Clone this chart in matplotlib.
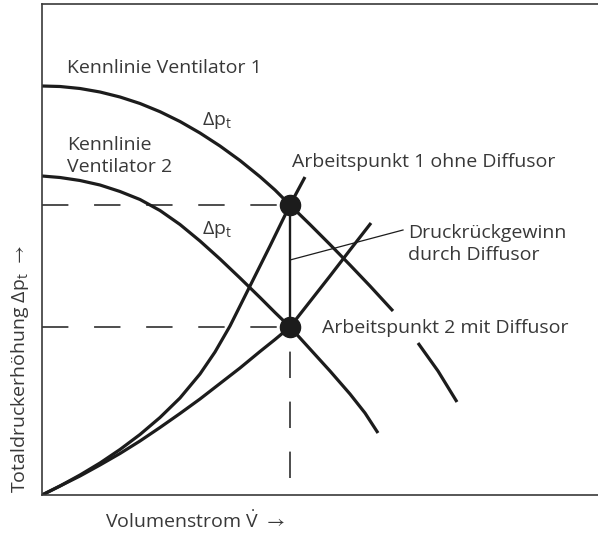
import numpy as np
import matplotlib
matplotlib.use("Agg")
import matplotlib.pyplot as plt

plt.rcParams['font.family'] = ['Open Sans', 'DejaVu Sans']
plt.rcParams['mathtext.fontset'] = 'custom'
plt.rcParams['mathtext.rm'] = 'Open Sans'
plt.rcParams['mathtext.it'] = 'Open Sans'
plt.rcParams['mathtext.sf'] = 'Open Sans'
plt.rcParams['mathtext.fallback'] = 'stixsans'
plt.rcParams['lines.scale_dashes'] = False

# fan characteristics (volume flow, total pressure rise)
fan1_v  = [0, 18, 38, 58, 78, 98, 118, 138, 158, 178, 198, 218, 233, 248, 268, 288, 308, 328, 351,
           np.nan, 376, 396, 415]
fan1_dp = [409, 408.5, 406.5, 403, 398, 391.5, 383.3, 373.5, 362, 349, 334.5, 318.3, 305, 290, 270.5,
           250.5, 230, 209, 184, np.nan, 152, 124, 93]
fan2_v  = [0, 18, 38, 58, 78, 98, 118, 138, 158, 178, 198, 218, 233, 248, 268, 288, 308, 323, 336]
fan2_dp = [319, 317.5, 314.5, 310, 303.5, 295.5, 284.5, 270.5, 254, 236, 217, 197.5, 182.5, 168,
           146, 124, 101, 82, 62]

# system characteristics
sys1_v  = [0, 18, 38, 58, 78, 98, 118, 138, 158, 173, 188, 206, 228, 248, 263]
sys1_dp = [0, 9, 20, 32, 45.5, 60.5, 77.5, 97, 121, 143, 169, 205, 249, 290, 318]
sys2_v  = [0, 18, 38, 58, 78, 98, 118, 138, 158, 178, 198, 218, 233, 248, 268, 288, 308, 329]
sys2_dp = [0, 9, 19, 30, 41.5, 54, 67.5, 81.5, 96, 111.5, 127, 143.5, 155.5, 168, 193.5, 219, 245, 272]

# operating points
op_v  = [248, 248]
op_dp = [290, 168]

lineColor = '#1c1c1c'
textColor = '#383838'
fs = 14

fig = plt.figure(figsize=(5.98, 5.36), dpi=100)
ax = fig.add_axes([42/598, 41/536, 556/598, 491/536])
ax.set_xlim(0, 556)
ax.set_ylim(0, 491)
ax.set_xticks([])
ax.set_yticks([])
ax.spines['right'].set_visible(False)
for s in ['left', 'top', 'bottom']:
    ax.spines[s].set_color('#3a3a3a')
    ax.spines[s].set_linewidth(1.2)

# dashed guides
for dp in op_dp:
    ax.plot([0, op_v[0]], [dp, dp], color=lineColor, lw=1.1, dashes=(19, 18.5))
ax.plot([op_v[1], op_v[1]], [17, op_dp[1]], color=lineColor, lw=1.1, dashes=(19, 17))

curveStyle = dict(color=lineColor, lw=2.3, solid_capstyle='butt', solid_joinstyle='round')
ax.plot(fan1_v, fan1_dp, **curveStyle)
ax.plot(fan2_v, fan2_dp, **curveStyle)
ax.plot(sys1_v, sys1_dp, **curveStyle)
ax.plot(sys2_v, sys2_dp, **curveStyle)

# pressure recovery
ax.plot(op_v, op_dp, color=lineColor, lw=1.7)
ax.plot([248, 361], [235, 265], color=lineColor, lw=0.9)

ax.plot(op_v, op_dp, 'o', color=lineColor, markersize=14.5, zorder=5)

# annotations
dpt = r'$\Delta\mathrm{p}_\mathrm{t}$'
ax.text(25, 422, 'Kennlinie Ventilator 1', fontsize=fs, color=textColor)
ax.text(25, 345, 'Kennlinie', fontsize=fs, color=textColor)
ax.text(25, 323, 'Ventilator 2', fontsize=fs, color=textColor)
ax.text(160, 370, dpt, fontsize=fs, color=textColor)
ax.text(160, 261, dpt, fontsize=fs, color=textColor)
ax.text(250, 328, 'Arbeitspunkt 1 ohne Diffusor', fontsize=fs, color=textColor)
ax.text(366, 257, 'Druckrückgewinn', fontsize=fs, color=textColor)
ax.text(366, 235, 'durch Diffusor', fontsize=fs, color=textColor)
ax.text(280, 162, 'Arbeitspunkt 2 mit Diffusor', fontsize=fs, color=textColor)

fig.text(105/598, 1 - 528/536, r'Volumenstrom $\dot{\mathrm{V}}\ \rightarrow$', fontsize=fs, color=textColor)
fig.text(25/598, 1 - 493/536, r'Totaldruckerhöhung $\Delta\mathrm{p}_\mathrm{t}\ \rightarrow$', fontsize=fs,
         color=textColor, rotation=90, rotation_mode='anchor', ha='left', va='baseline')

fig.savefig('out.png', dpi=100)
